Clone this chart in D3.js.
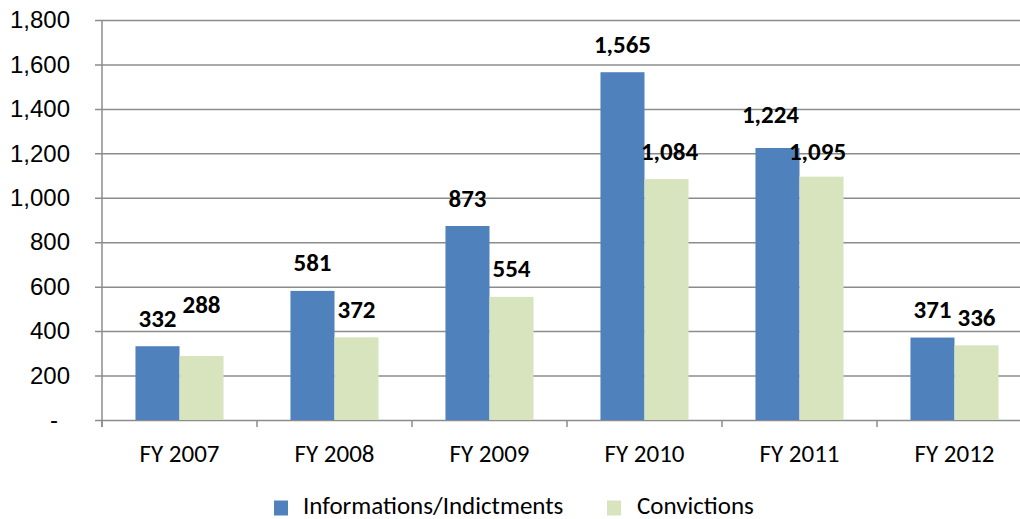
<!DOCTYPE html>
<html>
<head>
<meta charset="utf-8">
<script src="https://cdn.jsdelivr.net/npm/d3@7"></script>
<style>
  html, body { margin: 0; padding: 0; background: #fff; }
  svg { display: block; font-family: Carlito, Calibri, Lato, "Open Sans", sans-serif; }
</style>
</head>
<body>
<svg id="chart" width="1020" height="519"></svg>
<script>
// Fiscal years on the category axis
const categories = ["FY 2007", "FY 2008", "FY 2009", "FY 2010", "FY 2011", "FY 2012"];
// Series values
const informations = [332, 581, 873, 1565, 1224, 371];
const convictions = [288, 372, 554, 1084, 1095, 336];
const seriesNames = ["Informations/Indictments", "Convictions"];
// Value axis ticks
const yTicks = [0, 200, 400, 600, 800, 1000, 1200, 1400, 1600, 1800];

const colors = ["#4F81BD", "#D7E4BD"];
const gridColor = "#8c8c8c";

const svg = d3.select("#chart");
const plot = { left: 102, right: 1032, top: 20, bottom: 420 };

const x = d3.scaleBand().domain(categories).range([plot.left, plot.right]).paddingInner(0).paddingOuter(0);
const inner = d3.scaleBand().domain([0, 1]).range([0, x.bandwidth()]).paddingInner(0).paddingOuter(0.76);
const y = d3.scaleLinear().domain([0, 1800]).range([plot.bottom, plot.top]);

const fmt = d3.format(",");

// Horizontal gridlines with short tick stubs to the left of the axis
const gAxisY = svg.append("g")
  .attr("transform", `translate(${plot.left},0)`)
  .call(d3.axisLeft(y).tickValues(yTicks).tickSize(7).tickPadding(25)
    .tickFormat(d => d === 0 ? "-" : fmt(d)));
gAxisY.select(".domain").remove();
gAxisY.selectAll(".tick line").attr("stroke", gridColor).attr("stroke-width", 1.5)
  .attr("x1", -7).attr("x2", plot.right - plot.left);
gAxisY.selectAll(".tick text").attr("fill", "#000").style("font-size", "24px")
  .attr("font-family", null);
// Accounting-style dash for zero sits a little left of the other numbers
gAxisY.selectAll(".tick text").filter(d => d === 0).attr("x", -44);

// Vertical axis line
svg.append("line")
  .attr("x1", plot.left).attr("x2", plot.left)
  .attr("y1", plot.top).attr("y2", plot.bottom + 7)
  .attr("stroke", gridColor).attr("stroke-width", 1.5);

// Category axis: boundary ticks pointing down
const bounds = categories.map(c => x(c)).concat([plot.right]);
svg.append("g").selectAll("line").data(bounds).join("line")
  .attr("x1", d => d).attr("x2", d => d)
  .attr("y1", plot.bottom).attr("y2", plot.bottom + 7)
  .attr("stroke", gridColor).attr("stroke-width", 1.5);

svg.append("g").selectAll("text").data(categories).join("text")
  .attr("x", d => x(d) + x.bandwidth() / 2)
  .attr("y", plot.bottom + 42)
  .attr("text-anchor", "middle")
  .style("font-size", "25px")
  .text(d => d);

// Bars
const series = [informations, convictions];
const groups = svg.append("g").selectAll("g").data(series).join("g")
  .attr("fill", (d, i) => colors[i]);
groups.each(function (vals, si) {
  d3.select(this).selectAll("rect").data(vals).join("rect")
    .attr("x", (v, i) => x(categories[i]) + inner(si))
    .attr("width", inner.bandwidth())
    .attr("y", v => y(v))
    .attr("height", v => y(0) - y(v));
});

// Value labels above bars (a few lifted or shifted so they do not collide)
const labelNudge = { "0-1": [0, -24], "4-0": [-7, -6], "4-1": [-4, 3], "3-1": [3, 0] };
series.forEach((vals, si) => {
  svg.append("g").selectAll("text").data(vals).join("text")
    .attr("x", (v, i) => x(categories[i]) + inner(si) + inner.bandwidth() / 2 + (labelNudge[i + "-" + si] || [0, 0])[0])
    .attr("y", (v, i) => y(v) - 19.5 + (labelNudge[i + "-" + si] || [0, 0])[1])
    .attr("text-anchor", "middle")
    .style("font-size", "25px")
    .style("font-weight", "bold")
    .text(v => fmt(v));
});

// Legend
const legendItems = [{ x: 274, tx: 303 }, { x: 607, tx: 637 }];
const legend = svg.append("g").selectAll("g").data(seriesNames).join("g");
legend.append("rect")
  .attr("x", (d, i) => legendItems[i].x).attr("y", 500.5)
  .attr("width", 14).attr("height", 15)
  .attr("fill", (d, i) => colors[i]);
legend.append("text")
  .attr("x", (d, i) => legendItems[i].tx).attr("y", 514)
  .style("font-size", "25px")
  .text(d => d);
</script>
</body>
</html>
